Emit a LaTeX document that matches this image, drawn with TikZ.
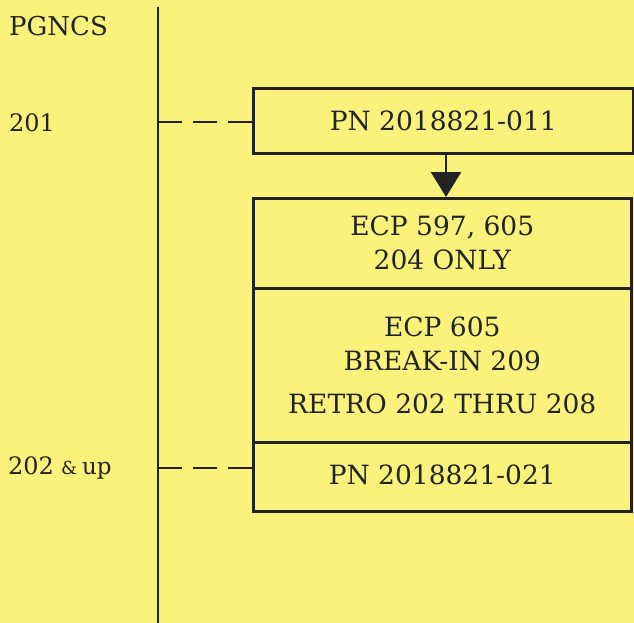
\documentclass[tikz,border=0pt]{standalone}
\usepackage{fontspec}
\setmainfont{DejaVu Serif}
\usetikzlibrary{arrows.meta}
\definecolor{paper}{RGB}{250,242,122}
\definecolor{ink}{RGB}{35,35,35}
\begin{document}
\begin{tikzpicture}[x=1pt,y=-1pt,
  partbox/.style={draw=ink,line width=2.6pt,rectangle,inner sep=0pt,anchor=north west,
    font=\fontsize{26.5}{34}\selectfont,text=ink,align=center},
  lbl/.style={anchor=west,inner sep=0pt,font=\fontsize{24}{30}\selectfont,text=ink},
  leader/.style={draw=ink,line width=2.6pt,dash pattern=on 23.5pt off 11.5pt}]
\fill[paper] (0,0) rectangle (634,623);
\useasboundingbox (0,0) rectangle (634,623);
% timeline
\coordinate (ttop) at (158,7);
\coordinate (tbot) at (158,623);
\draw[ink,line width=2.6pt] (ttop) -- (tbot);
\coordinate (t1) at (158,122);
\coordinate (t2) at (158,468);
% labels
\node[lbl,font=\fontsize{26}{30}\selectfont] (pgncs) at (9,26) {PGNCS};
\node[lbl] (l201) at (9,123) {201};
\node[lbl] (l202) at (8,468) {202\hspace{7pt}{\fontsize{18}{24}\selectfont\&}\hspace{5pt}\fontsize{23}{24}\selectfont up};
% boxes
\node[partbox,minimum width=380pt,minimum height=65pt] (b1) at (252,87) {\raisebox{-3pt}{PN 2018821-011}};
\node[partbox,minimum width=378pt,minimum height=90pt] (b2) at (252,197) {ECP 597, 605\\204 ONLY};
\node[partbox,minimum width=378pt,minimum height=154pt] (b3) at (252,287) {ECP 605\\BREAK-IN 209\\[9pt]RETRO 202 THRU 208};
\node[partbox,minimum width=378pt,minimum height=69pt] (b4) at (252,441) {\raisebox{5pt}{PN 2018821-021}};
% leaders
\draw[leader] (t1) -- (t1 -| b1.west);
\draw[leader] (t2) -- (t2 -| b4.west);
% arrow
\draw[ink,line width=2.6pt,-{Triangle[width=30pt,length=25pt]}] (b1.south -| 446,0) -- (b2.north -| 446,0);
\end{tikzpicture}
\end{document}
